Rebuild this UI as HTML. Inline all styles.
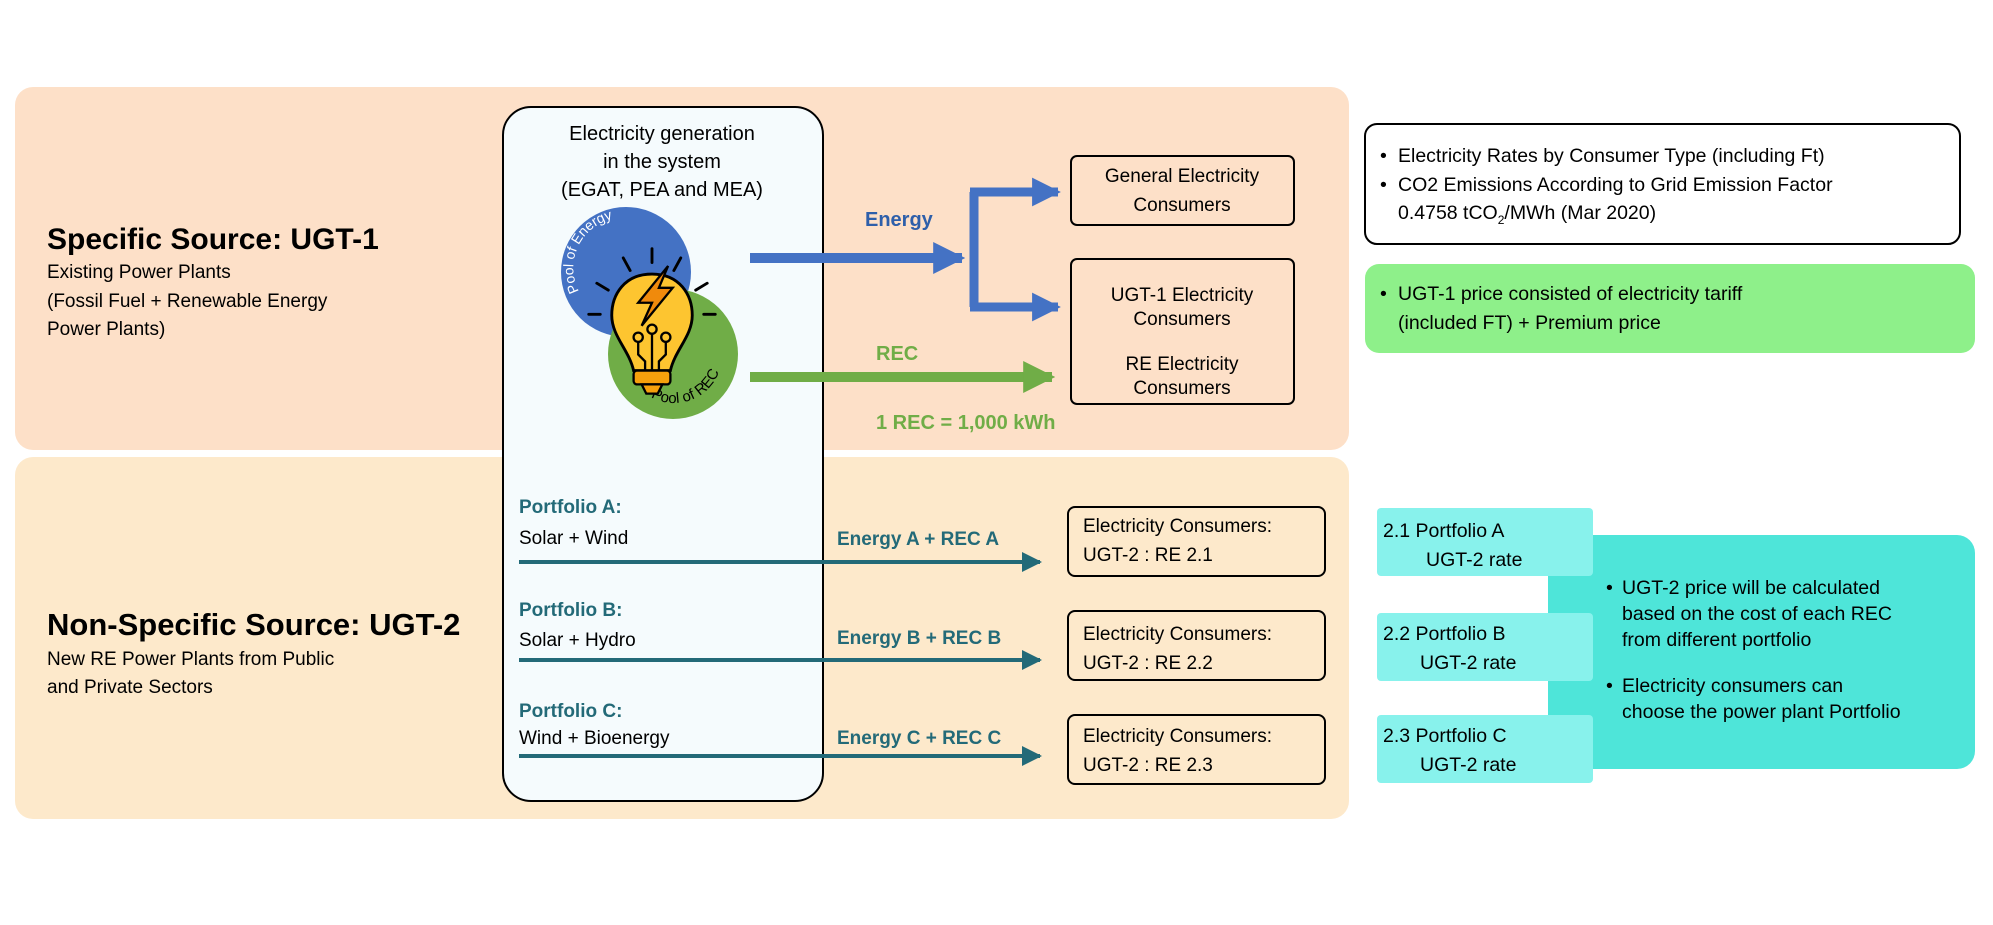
<!DOCTYPE html>
<html><head><meta charset="utf-8"><style>
html,body{margin:0;padding:0;background:#fff;}
svg{display:block;font-family:"Liberation Sans",sans-serif;}
</style></head><body>
<svg width="1993" height="925" viewBox="0 0 1993 925" xmlns="http://www.w3.org/2000/svg">
<defs>
<marker id="mb" viewBox="0 0 10 10" refX="9" refY="5" markerWidth="3.2" markerHeight="3.2" orient="auto"><path d="M0,0 L10,5 L0,10 z" fill="#4472c4"/></marker>
<marker id="mg" viewBox="0 0 10 10" refX="9" refY="5" markerWidth="3.2" markerHeight="3.2" orient="auto"><path d="M0,0 L10,5 L0,10 z" fill="#70ad47"/></marker>
<marker id="mt" viewBox="0 0 10 10" refX="9" refY="5" markerWidth="5" markerHeight="5" orient="auto"><path d="M0,0 L10,5 L0,10 z" fill="#236a78"/></marker>
<path id="arcE" d="M580,293 A50,50 0 0 1 667,243"/>
<path id="arcR" d="M649,396 A48,48 0 0 0 715,330"/>
</defs>
<rect x="15" y="87" width="1334" height="363" rx="18" fill="#fde0c8"/>
<rect x="15" y="457" width="1334" height="362" rx="18" fill="#fde9cb"/>
<rect x="503" y="107" width="320" height="694" rx="28" fill="#f5fbfd" stroke="#000" stroke-width="2"/>
<g font-size="20" text-anchor="middle" fill="#000">
<text x="662" y="140">Electricity generation</text>
<text x="662" y="168">in the system</text>
<text x="662" y="196">(EGAT, PEA and MEA)</text>
</g>
<text x="47" y="249" font-size="30" font-weight="bold">Specific Source: UGT-1</text>
<g font-size="19"><text x="47" y="278">Existing Power Plants</text><text x="47" y="307">(Fossil Fuel + Renewable Energy</text><text x="47" y="335">Power Plants)</text></g>
<circle cx="626" cy="272" r="65" fill="#4472c4"/>
<circle cx="673" cy="354" r="65" fill="#70ad47"/>
<text font-size="14" fill="#fff"><textPath href="#arcE" startOffset="2">Pool of Energy</textPath></text>
<text font-size="15" fill="#000"><textPath href="#arcR" startOffset="2">Pool of REC</textPath></text>
<g transform="translate(652,320) scale(1.15) translate(-652,-320)">
<g stroke="#000" stroke-width="2.5" stroke-linecap="round">
<line x1="652" y1="258" x2="652" y2="270"/><line x1="627" y1="266" x2="633" y2="277"/><line x1="677" y1="266" x2="671" y2="277"/>
<line x1="604" y1="288" x2="614" y2="294"/><line x1="700" y1="288" x2="690" y2="294"/>
<line x1="597" y1="315" x2="607" y2="315"/><line x1="697" y1="315" x2="707" y2="315"/>
</g>
<path d="M652,280 C628,280 617,298 617,316 C617,334 632,346 636,364 L668,364 C672,346 687,334 687,316 C687,298 676,280 652,280 Z" fill="#fdc530" stroke="#000" stroke-width="2.5"/>
<rect x="636" y="364" width="32" height="12" rx="3" fill="#f6a00c" stroke="#000" stroke-width="2"/>
<path d="M643,376 L661,376 L657,384 L647,384 Z" fill="#f6a00c" stroke="#000" stroke-width="2"/>
<path d="M666,273 L640,305 L652,305 L643,325 L670,292 L658,292 Z" fill="#f08a0c" stroke="#000" stroke-width="2"/>
<g stroke="#000" stroke-width="2" fill="none"><path d="M652,332 V364 M640,338 V350 L646,356 V364 M664,338 V350 L658,356 V364"/></g>
<g fill="#fdc530" stroke="#000" stroke-width="2"><circle cx="652" cy="328" r="4"/><circle cx="640" cy="335" r="4"/><circle cx="664" cy="335" r="4"/></g>
</g>
<line x1="750" y1="258" x2="962" y2="258" stroke="#4472c4" stroke-width="10" marker-end="url(#mb)"/>
<path d="M974,192 V307" stroke="#4472c4" stroke-width="9" fill="none"/>
<line x1="970" y1="192" x2="1058" y2="192" stroke="#4472c4" stroke-width="9" marker-end="url(#mb)"/>
<line x1="970" y1="307" x2="1058" y2="307" stroke="#4472c4" stroke-width="9" marker-end="url(#mb)"/>
<text x="865" y="226" font-size="20" font-weight="bold" fill="#2e5faa">Energy</text>
<line x1="750" y1="377" x2="1052" y2="377" stroke="#70ad47" stroke-width="10" marker-end="url(#mg)"/>
<text x="876" y="360" font-size="20" font-weight="bold" fill="#70ad47">REC</text>
<text x="876" y="429" font-size="20" font-weight="bold" fill="#70ad47">1 REC = 1,000 kWh</text>
<rect x="1071" y="156" width="223" height="69" rx="6" fill="#fde0c8" stroke="#000" stroke-width="2"/>
<rect x="1071" y="259" width="223" height="145" rx="6" fill="#fde0c8" stroke="#000" stroke-width="2"/>
<g font-size="19" text-anchor="middle"><text x="1182" y="182">General Electricity</text><text x="1182" y="211">Consumers</text>
<text x="1182" y="301">UGT-1 Electricity</text><text x="1182" y="325">Consumers</text><text x="1182" y="370">RE Electricity</text><text x="1182" y="394">Consumers</text></g>
<rect x="1365" y="124" width="595" height="120" rx="12" fill="#fff" stroke="#000" stroke-width="2"/>
<g font-size="19.5"><text x="1380" y="162">•</text><text x="1398" y="162">Electricity Rates by Consumer Type (including Ft)</text>
<text x="1380" y="191">•</text><text x="1398" y="191">CO2 Emissions According to Grid Emission Factor</text>
<text x="1398" y="219">0.4758 tCO<tspan font-size="12" dy="5">2</tspan><tspan dy="-5">/MWh (Mar 2020)</tspan></text></g>
<rect x="1365" y="264" width="610" height="89" rx="14" fill="#8ef08a"/>
<g font-size="19.5"><text x="1380" y="300">•</text><text x="1398" y="300">UGT-1 price consisted of electricity tariff</text><text x="1398" y="329">(included FT) + Premium price</text></g>
<text x="47" y="635" font-size="31" font-weight="bold">Non-Specific Source: UGT-2</text>
<g font-size="19"><text x="47" y="665">New RE Power Plants from Public</text><text x="47" y="693">and Private Sectors</text></g>
<g font-size="19">
<text x="519" y="513" font-weight="bold" fill="#236a78">Portfolio  A:</text><text x="519" y="544">Solar + Wind</text>
<text x="519" y="616" font-weight="bold" fill="#236a78">Portfolio  B:</text><text x="519" y="646">Solar + Hydro</text>
<text x="519" y="717" font-weight="bold" fill="#236a78">Portfolio  C:</text><text x="519" y="744">Wind + Bioenergy</text>
<g font-weight="bold" fill="#236a78"><text x="837" y="545">Energy A + REC A</text><text x="837" y="644">Energy B + REC B</text><text x="837" y="744">Energy C + REC C</text></g>
</g>
<g stroke="#236a78" stroke-width="4"><line x1="519" y1="562" x2="1040" y2="562" marker-end="url(#mt)"/><line x1="519" y1="660" x2="1040" y2="660" marker-end="url(#mt)"/><line x1="519" y1="756" x2="1040" y2="756" marker-end="url(#mt)"/></g>
<g fill="#fde9cb" stroke="#000" stroke-width="2"><rect x="1068" y="507" width="257" height="69" rx="7"/><rect x="1068" y="611" width="257" height="69" rx="7"/><rect x="1068" y="715" width="257" height="69" rx="7"/></g>
<g font-size="19"><text x="1083" y="532">Electricity Consumers:</text><text x="1083" y="561">UGT-2 : RE 2.1</text>
<text x="1083" y="640">Electricity Consumers:</text><text x="1083" y="669">UGT-2 : RE 2.2</text>
<text x="1083" y="742">Electricity Consumers:</text><text x="1083" y="771">UGT-2 : RE 2.3</text></g>
<rect x="1548" y="535" width="427" height="234" rx="18" fill="#4ee5d9"/>
<g fill="#88f2ec"><rect x="1377" y="508" width="216" height="68" rx="4"/><rect x="1377" y="613" width="216" height="68" rx="4"/><rect x="1377" y="715" width="216" height="68" rx="4"/></g>
<g font-size="19.5"><text x="1383" y="537">2.1 Portfolio A</text><text x="1426" y="566">UGT-2 rate</text>
<text x="1383" y="640">2.2 Portfolio B</text><text x="1420" y="669">UGT-2 rate</text>
<text x="1383" y="742">2.3 Portfolio C</text><text x="1420" y="771">UGT-2 rate</text>
<text x="1606" y="594">•</text><text x="1622" y="594">UGT-2 price will be calculated</text><text x="1622" y="620">based on the cost of each REC</text><text x="1622" y="646">from different portfolio</text>
<text x="1606" y="692">•</text><text x="1622" y="692">Electricity consumers can</text><text x="1622" y="718">choose the power plant Portfolio</text></g>
</svg>
</body></html>
